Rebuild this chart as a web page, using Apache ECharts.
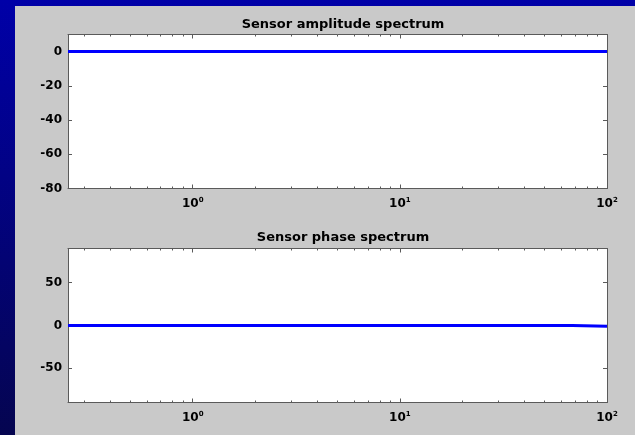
<!DOCTYPE html>
<html>
<head>
<meta charset="utf-8">
<script src="https://cdn.jsdelivr.net/npm/echarts@6/dist/echarts.min.js"></script>
<style>
html,body{margin:0;padding:0;}
#c{width:635px;height:435px;}
</style>
</head>
<body>
<div id="c"></div>
<script>
// ---- data ----
const freq = [0.25, 0.5, 1, 2, 5, 10, 20, 50, 68, 68.2, 100];
const amplitude = [0, 0, 0, 0, 0, 0, 0, 0, 0, 0, 0];
const phase = [0, 0, 0, 0, 0, 0, 0, 0, 0, -1, -1];
const titles = ['Sensor amplitude spectrum', 'Sensor phase spectrum'];
const xMajor = [1, 10, 100];
const xMinor = [0.3,0.4,0.5,0.6,0.7,0.8,0.9,2,3,4,5,6,7,8,9,20,30,40,50,60,70,80,90];
const ampTicks = [-80, -60, -40, -20, 0];
const phaseTicks = [-50, 0, 50];

const FONT = 'DejaVu Sans';
const frame = '#5a5a5a';

function xAxes(gi) {
  const base = {
    type: 'log', logBase: 10, gridIndex: gi, min: 0.25, max: 100,
    splitLine: {show: false}
  };
  return [
    Object.assign({}, base, {
      position: 'bottom',
      axisLine: {show: true, onZero: false, lineStyle: {color: frame, width: 1}},
      axisTick: {show: true, inside: true, length: 4, lineStyle: {color: frame}, customValues: xMajor},
      axisLabel: {
        show: true, margin: 8, customValues: xMajor,
        formatter: v => '{b|10}{s|' + Math.round(Math.log10(v)) + '}',
        rich: {
          b: {fontFamily: FONT, fontWeight: 'bold', fontSize: 12, color: '#000'},
          s: {fontFamily: FONT, fontWeight: 'bold', fontSize: 7, color: '#000', padding: [0, 0, 8, 0]}
        }
      }
    }),
    Object.assign({}, base, {
      position: 'bottom',
      axisLine: {show: false, onZero: false},
      axisTick: {show: true, inside: true, length: 2, lineStyle: {color: frame}, customValues: xMinor},
      axisLabel: {show: false}
    }),
    Object.assign({}, base, {
      position: 'top',
      axisLine: {show: true, onZero: false, lineStyle: {color: frame, width: 1}},
      axisTick: {show: true, inside: true, length: 4, lineStyle: {color: frame}, customValues: xMajor},
      axisLabel: {show: false}
    }),
    Object.assign({}, base, {
      position: 'top',
      axisLine: {show: false, onZero: false},
      axisTick: {show: true, inside: true, length: 2, lineStyle: {color: frame}, customValues: xMinor},
      axisLabel: {show: false}
    })
  ];
}

function yAxes(gi, min, max, ticks) {
  const base = {type: 'value', gridIndex: gi, min: min, max: max, splitLine: {show: false}};
  return [
    Object.assign({}, base, {
      position: 'left',
      axisLine: {show: true, onZero: false, lineStyle: {color: frame, width: 1}},
      axisTick: {show: true, inside: true, length: 4, lineStyle: {color: frame}, customValues: ticks},
      axisLabel: {show: true, margin: 6, customValues: ticks, fontFamily: FONT, fontWeight: 'bold', fontSize: 12, color: '#000'}
    }),
    Object.assign({}, base, {
      position: 'right',
      axisLine: {show: true, onZero: false, lineStyle: {color: frame, width: 1}},
      axisTick: {show: true, inside: true, length: 4, lineStyle: {color: frame}, customValues: ticks},
      axisLabel: {show: false}
    })
  ];
}

const ampData = freq.map((f, i) => [f, amplitude[i]]);
const phaseData = freq.map((f, i) => [f, phase[i]]);

const chart = echarts.init(document.getElementById('c'), null, {renderer: 'canvas'});
chart.setOption({
  animation: false,
  backgroundColor: {
    type: 'linear', x: 0, y: 0, x2: 0, y2: 1,
    colorStops: [{offset: 0, color: '#0000a8'}, {offset: 1, color: '#050550'}]
  },
  graphic: [{
    type: 'rect', z: -10, silent: true,
    shape: {x: 15, y: 6, width: 620, height: 429},
    style: {fill: '#c9c9c9'}
  }],
  title: [
    {text: titles[0], left: 338, top: 13, textAlign: 'center',
     textStyle: {fontFamily: FONT, fontWeight: 'bold', fontSize: 13, color: '#000'}},
    {text: titles[1], left: 338, top: 226, textAlign: 'center',
     textStyle: {fontFamily: FONT, fontWeight: 'bold', fontSize: 13, color: '#000'}}
  ],
  grid: [
    {left: 68, right: 28, top: 34.5, height: 154, show: true, backgroundColor: '#ffffff', borderWidth: 0, containLabel: false},
    {left: 68, right: 28, top: 248.5, height: 154, show: true, backgroundColor: '#ffffff', borderWidth: 0, containLabel: false}
  ],
  xAxis: xAxes(0).concat(xAxes(1)),
  yAxis: yAxes(0, -80, 10, ampTicks).concat(yAxes(1, -90, 90, phaseTicks)),
  series: [
    {type: 'line', xAxisIndex: 0, yAxisIndex: 0, data: ampData, showSymbol: false,
     lineStyle: {color: '#0000ff', width: 3}, clip: true},
    {type: 'line', xAxisIndex: 4, yAxisIndex: 2, data: phaseData, showSymbol: false,
     lineStyle: {color: '#0000ff', width: 3}, clip: true}
  ]
});
</script>
</body>
</html>
